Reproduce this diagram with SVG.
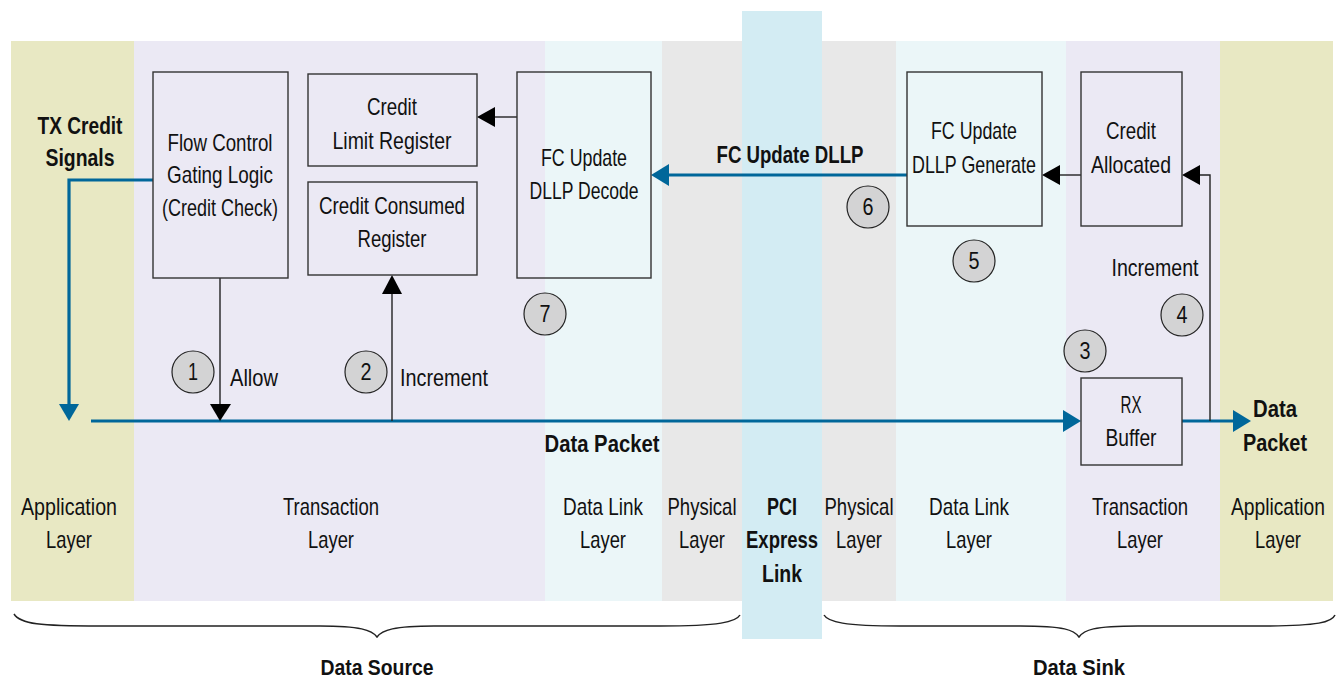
<svg xmlns="http://www.w3.org/2000/svg" width="1338" height="679" viewBox="0 0 1338 679">
<style>
text{font-family:"Liberation Sans",Arial,sans-serif;font-size:24px;fill:#111;text-anchor:middle}
.b{font-weight:bold}
.s{font-size:22px}
.box{fill:none;stroke:#333;stroke-width:1.4}
.num{fill:#d3d3d4;stroke:#222;stroke-width:1.2}
.n{font-size:23px}
.blk{stroke:#222;stroke-width:1.4;fill:none}
.blu{stroke:#00679a;stroke-width:3.2;fill:none}
.ah{fill:#000}
.bh{fill:#00679a}
.brace{stroke:#222;stroke-width:1.5;fill:none}
</style>
<rect width="1338" height="679" fill="#fff"/>
<g id="bands">
<rect x="11" y="41" width="123" height="560" fill="#e8e8c3"/>
<rect x="134" y="41" width="411" height="560" fill="#ebe9f4"/>
<rect x="545" y="41" width="117" height="560" fill="#ebf6f8"/>
<rect x="662" y="41" width="80" height="560" fill="#e8e8e8"/>
<rect x="742" y="11" width="80" height="628" fill="#d3ecf3"/>
<rect x="822" y="41" width="74" height="560" fill="#e8e8e8"/>
<rect x="896" y="41" width="170" height="560" fill="#ebf6f8"/>
<rect x="1066" y="41" width="154" height="560" fill="#ebe9f4"/>
<rect x="1220" y="41" width="113" height="560" fill="#e8e8c3"/>
</g>
<g id="layer-labels">
<text x="69" y="515" textLength="96" lengthAdjust="spacingAndGlyphs">Application</text><text x="69" y="548" textLength="46" lengthAdjust="spacingAndGlyphs">Layer</text>
<text x="331" y="515" textLength="96" lengthAdjust="spacingAndGlyphs">Transaction</text><text x="331" y="548" textLength="46" lengthAdjust="spacingAndGlyphs">Layer</text>
<text x="603" y="515" textLength="80" lengthAdjust="spacingAndGlyphs">Data Link</text><text x="603" y="548" textLength="46" lengthAdjust="spacingAndGlyphs">Layer</text>
<text x="702" y="515" textLength="69" lengthAdjust="spacingAndGlyphs">Physical</text><text x="702" y="548" textLength="46" lengthAdjust="spacingAndGlyphs">Layer</text>
<text class="b" x="782" y="515" textLength="30" lengthAdjust="spacingAndGlyphs">PCI</text><text class="b" x="782" y="548" textLength="72" lengthAdjust="spacingAndGlyphs">Express</text><text class="b" x="782" y="582" textLength="40" lengthAdjust="spacingAndGlyphs">Link</text>
<text x="859" y="515" textLength="69" lengthAdjust="spacingAndGlyphs">Physical</text><text x="859" y="548" textLength="46" lengthAdjust="spacingAndGlyphs">Layer</text>
<text x="969" y="515" textLength="80" lengthAdjust="spacingAndGlyphs">Data Link</text><text x="969" y="548" textLength="46" lengthAdjust="spacingAndGlyphs">Layer</text>
<text x="1140" y="515" textLength="96" lengthAdjust="spacingAndGlyphs">Transaction</text><text x="1140" y="548" textLength="46" lengthAdjust="spacingAndGlyphs">Layer</text>
<text x="1278" y="515" textLength="94" lengthAdjust="spacingAndGlyphs">Application</text><text x="1278" y="548" textLength="46" lengthAdjust="spacingAndGlyphs">Layer</text>
</g>
<g id="connectors">
<polyline class="blu" points="153,180 69,180 69,406"/>
<polygon class="bh" points="59,404 79,404 69,421"/>
<line class="blu" x1="91" y1="421" x2="1066" y2="421"/>
<polygon class="bh" points="1063,410 1081,421 1063,432"/>
<line class="blu" x1="1182" y1="421" x2="1236" y2="421"/>
<polygon class="bh" points="1233,410 1251,421 1233,432"/>
<line class="blu" x1="907" y1="175" x2="666" y2="175"/>
<polygon class="bh" points="669,164 651,175 669,186"/>
<line class="blk" x1="220" y1="278" x2="220" y2="406"/>
<polygon class="ah" points="210,404 231,404 220,421"/>
<line class="blk" x1="392" y1="421" x2="392" y2="290"/>
<polygon class="ah" points="382,294 402,294 392,275"/>
<line class="blk" x1="517" y1="117" x2="492" y2="117"/>
<polygon class="ah" points="495,107 477,117 495,127"/>
<line class="blk" x1="1081" y1="175" x2="1057" y2="175"/>
<polygon class="ah" points="1060,165 1042,175 1060,185"/>
<polyline class="blk" points="1210,421 1210,175 1197,175"/>
<polygon class="ah" points="1200,165 1182,175 1200,185"/>
</g>
<g id="tx-credit"><text class="b" x="80" y="134" textLength="85" lengthAdjust="spacingAndGlyphs">TX Credit</text><text class="b" x="80" y="166" textLength="69" lengthAdjust="spacingAndGlyphs">Signals</text></g>
<g id="flow-control"><rect class="box" x="153" y="72" width="135" height="206"/>
<text x="220" y="151" textLength="105" lengthAdjust="spacingAndGlyphs">Flow Control</text><text x="220" y="183" textLength="106" lengthAdjust="spacingAndGlyphs">Gating Logic</text><text x="220" y="216" textLength="116" lengthAdjust="spacingAndGlyphs">(Credit Check)</text></g>
<g id="credit-limit"><rect class="box" x="308" y="74" width="169" height="92"/>
<text x="392" y="115" textLength="50" lengthAdjust="spacingAndGlyphs">Credit</text><text x="392" y="149" textLength="119" lengthAdjust="spacingAndGlyphs">Limit Register</text></g>
<g id="credit-consumed"><rect class="box" x="308" y="182" width="169" height="93"/>
<text x="392" y="214" textLength="146" lengthAdjust="spacingAndGlyphs">Credit Consumed</text><text x="392" y="247" textLength="69" lengthAdjust="spacingAndGlyphs">Register</text></g>
<g id="fc-decode"><rect class="box" x="517" y="72" width="134" height="206"/>
<text x="584" y="166" textLength="86" lengthAdjust="spacingAndGlyphs">FC Update</text><text x="584" y="199" textLength="109" lengthAdjust="spacingAndGlyphs">DLLP Decode</text></g>
<g id="fc-generate"><rect class="box" x="907" y="72" width="135" height="154"/>
<text x="974" y="139" textLength="86" lengthAdjust="spacingAndGlyphs">FC Update</text><text x="974" y="173" textLength="124" lengthAdjust="spacingAndGlyphs">DLLP Generate</text></g>
<g id="credit-allocated"><rect class="box" x="1081" y="72" width="101" height="154"/>
<text x="1131" y="139" textLength="50" lengthAdjust="spacingAndGlyphs">Credit</text><text x="1131" y="173" textLength="80" lengthAdjust="spacingAndGlyphs">Allocated</text></g>
<g id="rx-buffer"><rect class="box" x="1081" y="378" width="101" height="87"/>
<text x="1131" y="413" textLength="21" lengthAdjust="spacingAndGlyphs">RX</text><text x="1131" y="446" textLength="51" lengthAdjust="spacingAndGlyphs">Buffer</text></g>
<g id="labels">
<text class="b" x="790" y="163" textLength="147" lengthAdjust="spacingAndGlyphs">FC Update DLLP</text>
<text x="254" y="386" textLength="48" lengthAdjust="spacingAndGlyphs">Allow</text>
<text x="444" y="386" textLength="88" lengthAdjust="spacingAndGlyphs">Increment</text>
<text x="1155" y="276" textLength="87" lengthAdjust="spacingAndGlyphs">Increment</text>
<text class="b" x="602" y="452" textLength="115" lengthAdjust="spacingAndGlyphs">Data Packet</text>
<text class="b" x="1275" y="417" textLength="44" lengthAdjust="spacingAndGlyphs">Data</text><text class="b" x="1275" y="451" textLength="64" lengthAdjust="spacingAndGlyphs">Packet</text>
</g>
<g id="steps">
<circle class="num" cx="193" cy="372" r="21"/><text class="n" x="193" y="380" textLength="10" lengthAdjust="spacingAndGlyphs">1</text>
<circle class="num" cx="366" cy="372" r="21"/><text class="n" x="366" y="380" textLength="11" lengthAdjust="spacingAndGlyphs">2</text>
<circle class="num" cx="1085" cy="351" r="21"/><text class="n" x="1085" y="359" textLength="11" lengthAdjust="spacingAndGlyphs">3</text>
<circle class="num" cx="1182" cy="315" r="21"/><text class="n" x="1182" y="323" textLength="11" lengthAdjust="spacingAndGlyphs">4</text>
<circle class="num" cx="974" cy="261" r="21"/><text class="n" x="974" y="269" textLength="11" lengthAdjust="spacingAndGlyphs">5</text>
<circle class="num" cx="868" cy="207" r="21"/><text class="n" x="868" y="215" textLength="11" lengthAdjust="spacingAndGlyphs">6</text>
<circle class="num" cx="545" cy="314" r="21"/><text class="n" x="545" y="322" textLength="11" lengthAdjust="spacingAndGlyphs">7</text>
</g>
<g id="braces">
<path class="brace" d="M14,614 C20,624 40,626 100,626 L320,626 C360,626 372,630 377,637 C382,630 394,626 434,626 L660,626 C720,626 736,622 740,615"/>
<path class="brace" d="M824,615 C828,622 844,626 900,626 L1020,626 C1065,626 1074,630 1079,637 C1084,630 1093,626 1138,626 L1260,626 C1320,626 1332,622 1335,615"/>
<text class="b s" x="377" y="675" textLength="113" lengthAdjust="spacingAndGlyphs">Data Source</text>
<text class="b s" x="1079" y="675" textLength="92" lengthAdjust="spacingAndGlyphs">Data Sink</text>
</g>
</svg>
